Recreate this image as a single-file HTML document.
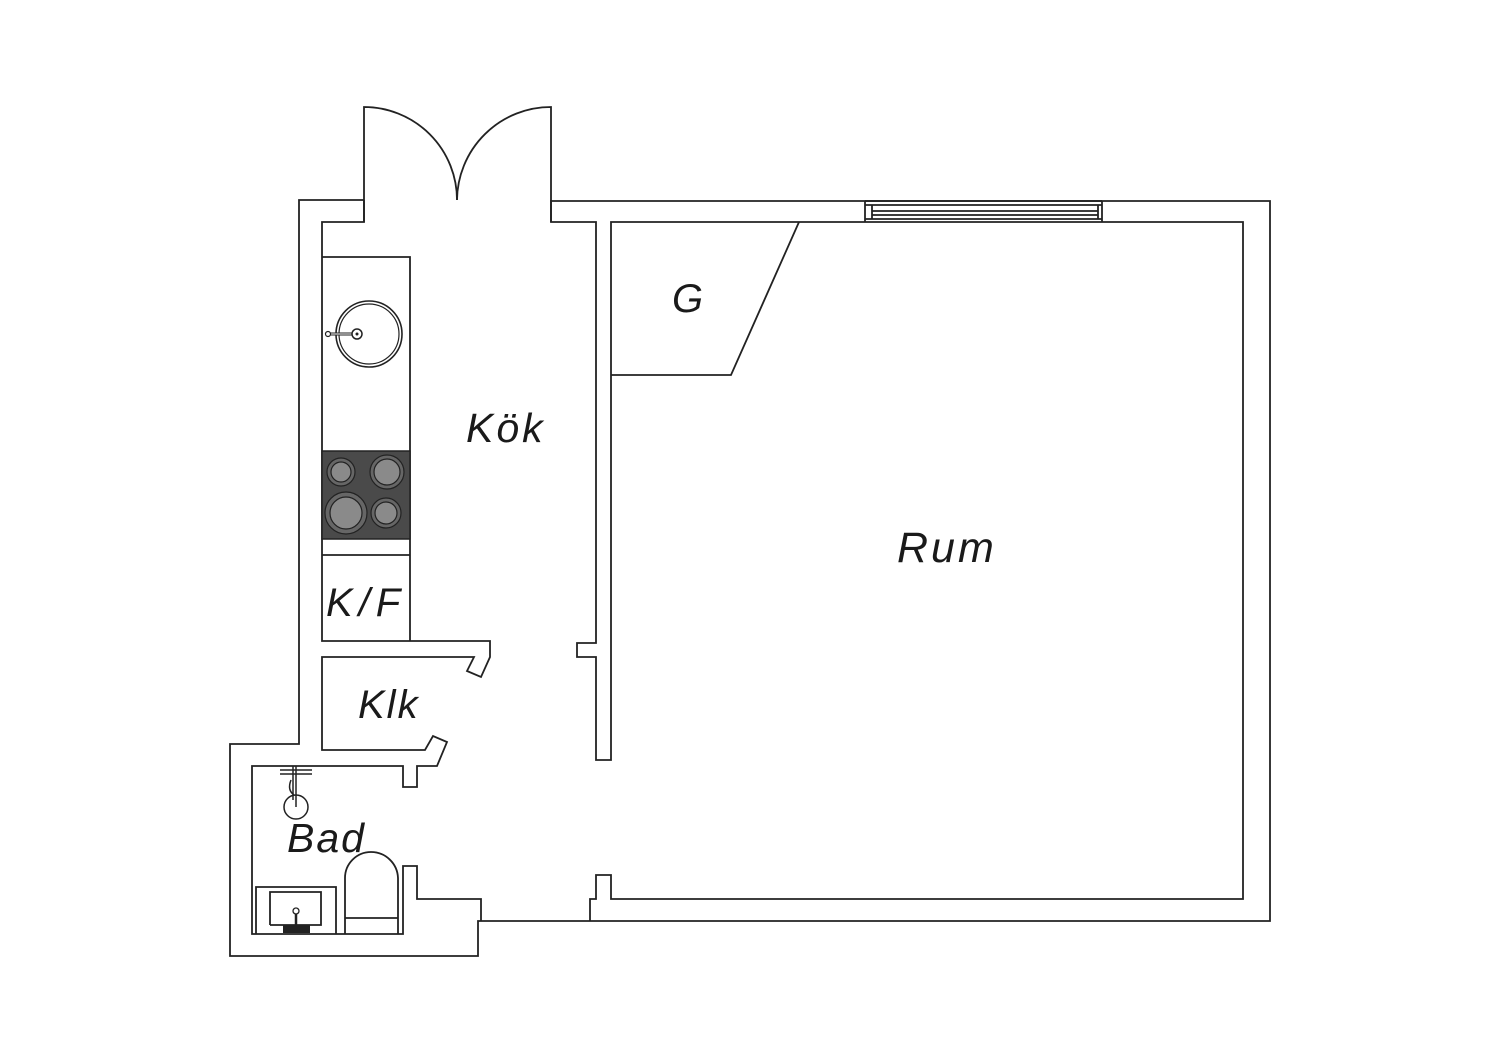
<!DOCTYPE html>
<html><head><meta charset="utf-8"><style>
html,body{margin:0;padding:0;background:#fff;}
svg{display:block;}
text{font-family:"Liberation Sans",sans-serif;font-style:italic;fill:#1a1a1a;}
</style></head><body>
<svg width="1500" height="1060" viewBox="0 0 1500 1060" xmlns="http://www.w3.org/2000/svg">
<g fill="none" stroke="#222" stroke-width="1.8" stroke-linejoin="miter">
<path d="M364,200 H299 V744 H230 V956 H478 V921 H1270 V201 H551"/>
<path d="M364,222 V107 A93,93 0 0 1 457,200"/>
<path d="M551,222 V107 A94,94 0 0 0 457,200"/>
<path d="M364,200 V222 H322 V641 H490 V657 L481,677 L467,671 L474,657 H322 V750 H425 L433,736 L447,742 L437,766 H417 V787 H403 V766 H252 V934 H403 V866 H417 V899 H481 V921"/>
<path d="M551,200 V222 H596 V643 H577 V657 H596 V760 H611 V222 H1243 V899 H611 V875 H596 V899 H590 V921"/>
<path d="M322,257 H410 V641"/>
<path d="M322,555 H410"/>
<path d="M611,375 H731 L799,222"/>
<path d="M865,201 V222 M1102,201 V222 M865,201 H1102 M865,205 H1102 M872,205 V219 M1098,205 V219 M872,211 H1098 M872,215 H1098 M865,219 H1102"/>
<path d="M345,934 V878 A26,26 0 0 1 371,852 A27,27 0 0 1 398,878 V934 M345,918 H398"/>
<path d="M256,934 V887 H336 V934 M270,925 V892 H321 V925 H270"/>
</g>
<circle cx="369" cy="334" r="33" fill="none" stroke="#222" stroke-width="1.6"/>
<circle cx="369" cy="334" r="30" fill="none" stroke="#222" stroke-width="1.2"/>
<line x1="329" y1="334" x2="354" y2="334" stroke="#222" stroke-width="3"/>
<line x1="329" y1="334" x2="354" y2="334" stroke="#fff" stroke-width="1"/>
<circle cx="328" cy="334" r="2.5" fill="#fff" stroke="#222" stroke-width="1.2"/>
<circle cx="357" cy="334" r="5" fill="#fff" stroke="#222" stroke-width="1.5"/>
<circle cx="357" cy="334" r="1.5" fill="#222"/>
<rect x="322" y="451" width="88" height="88" fill="#4a4a4a" stroke="#222" stroke-width="1.5"/>
<g stroke="#222" stroke-width="1.2">
<circle cx="341" cy="472" r="14" fill="#666"/><circle cx="341" cy="472" r="10" fill="#8a8a8a"/>
<circle cx="387" cy="472" r="17" fill="#666"/><circle cx="387" cy="472" r="13" fill="#8a8a8a"/>
<circle cx="346" cy="513" r="21" fill="#666"/><circle cx="346" cy="513" r="16" fill="#8a8a8a"/>
<circle cx="386" cy="513" r="15" fill="#666"/><circle cx="386" cy="513" r="11" fill="#8a8a8a"/>
</g>
<g stroke="#222" stroke-width="1.5" fill="none">
<path d="M280,770 H312 M280,774 H312 M296,766 V807 M293,766 V800"/>
<circle cx="296" cy="807" r="12"/>
<path d="M291,780 q-4,10 3,15"/>
</g>
<rect x="283" y="925" width="27" height="8" fill="#222"/>
<line x1="296" y1="912" x2="296" y2="932" stroke="#222" stroke-width="2.5"/>
<circle cx="296" cy="911" r="3" fill="#fff" stroke="#222" stroke-width="1.3"/>
<text x="466" y="442" font-size="41" letter-spacing="3">Kök</text>
<text x="897" y="562" font-size="43" letter-spacing="3">Rum</text>
<text x="672" y="312" font-size="40">G</text>
<text x="326" y="616" font-size="40" letter-spacing="6">K/F</text>
<text x="358" y="718" font-size="40" letter-spacing="2">Klk</text>
<text x="287" y="852" font-size="41" letter-spacing="2">Bad</text>
</svg>
</body></html>
